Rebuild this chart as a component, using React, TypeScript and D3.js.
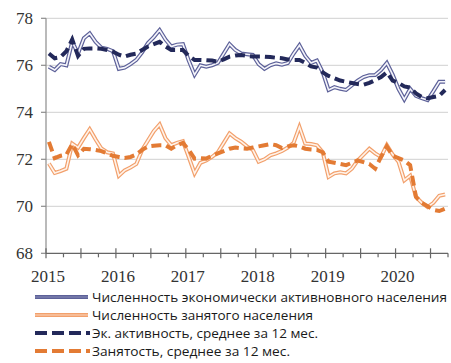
import React from "react";
import * as d3 from "d3";

const years = ["2015", "2016", "2017", "2018", "2019", "2020"];
const yTicks = [68, 70, 72, 74, 76, 78];

// monthly, Jan 2015 .. Sep 2020
const activeSolid = [
  75.94, 75.8, 76.05, 76.0, 77.0, 76.5, 77.15, 77.36, 77.0, 76.75, 76.7, 76.6,
  75.85, 75.9, 76.05, 76.23, 76.55, 76.95, 77.2, 77.5, 77.1, 76.8, 76.88, 76.9,
  76.2, 75.6, 76.0, 75.94, 76.0, 76.1, 76.5, 76.9, 76.65, 76.5, 76.47, 76.44,
  76.05, 75.85, 76.0, 76.08, 76.03, 76.1, 76.5, 76.85, 76.4, 76.1, 76.2, 75.7,
  74.95, 75.07, 75.0, 74.95, 75.15, 75.35, 75.5, 75.58, 75.59, 75.8, 76.1, 75.6,
  75.0, 74.55, 75.0, 74.7, 74.6, 74.52, 74.9, 75.3, 75.3,
];
const employedSolid = [
  71.82, 71.42, 71.5, 71.6, 72.67, 72.5, 72.9, 73.28, 72.85, 72.46, 72.3, 72.25,
  71.3, 71.53, 71.65, 71.8, 72.4, 72.8, 73.2, 73.48, 72.9, 72.6, 72.7, 72.77,
  72.1, 71.4, 71.85, 71.95, 72.1, 72.3, 72.7, 73.1, 72.9, 72.75, 72.55, 72.4,
  71.9, 72.0, 72.17, 72.25, 72.35, 72.5, 72.7, 73.38, 72.67, 72.65, 72.6, 72.3,
  71.25, 71.4, 71.45, 71.4, 71.6, 71.95, 72.2, 72.45, 72.25, 72.1, 72.6, 72.2,
  71.9, 71.1, 71.3, 70.4, 70.15, 69.97, 70.15, 70.45, 70.5,
];
const activeAvg = [
  76.5, 76.3, 76.35, 76.6, 77.1, 76.4, 76.7, 76.72, 76.72, 76.7, 76.65, 76.58,
  76.45, 76.37, 76.45, 76.5, 76.65, 76.8, 76.9, 77.0, 76.8, 76.65, 76.65, 76.65,
  76.4, 76.23, 76.23, 76.22, 76.2, 76.15, 76.25, 76.37, 76.42, 76.44, 76.4, 76.37,
  76.37, 76.37, 76.35, 76.32, 76.3, 76.25, 76.23, 76.23, 76.1, 75.95, 75.9, 75.7,
  75.55, 75.45, 75.35, 75.3, 75.25, 75.2, 75.17, 75.25, 75.37, 75.5, 75.7, 75.35,
  75.25, 75.1, 75.05, 74.8, 74.65, 74.6, 74.65, 74.7, 74.95,
];
const employedAvg = [
  72.74, 72.05, 72.15, 72.2, 72.65, 72.17, 72.45, 72.43, 72.4, 72.35, 72.25, 72.15,
  72.1, 72.06, 72.1, 72.2, 72.4, 72.55, 72.58, 72.6, 72.6, 72.45, 72.6, 72.7,
  72.4, 72.03, 72.05, 72.03, 72.15, 72.25, 72.35, 72.45, 72.5, 72.47, 72.45, 72.5,
  72.55, 72.6, 72.65, 72.6, 72.48, 72.55, 72.6, 72.55, 72.45, 72.42, 72.4, 72.3,
  71.9, 71.85, 71.8, 71.75, 71.85, 71.95, 71.88, 71.8, 71.6, 72.1, 72.55, 72.15,
  72.05, 71.95, 71.75, 70.4, 70.15, 70.0, 69.85, 69.8, 69.9,
];

const legendLabels = [
  "Численность экономически активновного населения",
  "Численность занятого населения",
  "Эк. активность, среднее за 12 мес.",
  "Занятость, среднее за 12 мес.",
];
const legendWidths = [355, 221, 226, 198];

export default function App() {
  const W = 451;
  const H = 363;
  const left = 46;
  const right = 448;
  const top = 18.3;
  const bottom = 253.3;
  const nMonths = activeSolid.length;

  const x = d3.scaleLinear().domain([0, nMonths]).range([left, right]);
  const y = d3.scaleLinear().domain([68, 78]).range([bottom, top]);

  const line = d3
    .line<number>()
    .x((_, i) => x(i + 0.5))
    .y((d) => y(d));

  const majorTicks = d3.range(0, nMonths + 1, 6);
  const minorTicks = d3.range(3, nMonths + 1, 6);

  const serif = "'Liberation Serif', 'DejaVu Serif', serif";
  const sans = "'Open Sans', 'Noto Sans', sans-serif";

  const blueOuter = "#5d6199";
  const orangeOuter = "#f2a06c";
  const navy = "#23295a";
  const orange = "#e37b34";

  const legendY = [297, 315, 333, 351];

  return (
    <svg width={W} height={H} style={{ position: "absolute", left: 0, top: 0, background: "#fff" }}>
      {/* gridlines */}
      {yTicks.slice(1).map((t) => (
        <line key={t} x1={left} x2={right} y1={y(t)} y2={y(t)} stroke="#d9d9d9" strokeWidth={1.2} />
      ))}
      {/* y axis */}
      <line x1={left} x2={left} y1={top} y2={bottom} stroke="#8c8c8c" strokeWidth={1.2} />
      {yTicks.map((t) => (
        <g key={t}>
          <line x1={left - 5} x2={left} y1={y(t)} y2={y(t)} stroke="#8c8c8c" strokeWidth={1.2} />
          <text x={33} y={y(t)} dy="0.34em" textAnchor="end" fontFamily={serif} fontSize={17} fill="#333">
            {t}
          </text>
        </g>
      ))}
      {/* x axis */}
      <line x1={left} x2={right} y1={bottom} y2={bottom} stroke="#666" strokeWidth={1.2} />
      {majorTicks.map((m) => (
        <line key={"M" + m} x1={x(m)} x2={x(m)} y1={bottom - 5} y2={bottom + 5} stroke="#666" strokeWidth={1.2} />
      ))}
      {minorTicks.map((m) => (
        <line key={"m" + m} x1={x(m)} x2={x(m)} y1={bottom} y2={bottom + 4} stroke="#666" strokeWidth={1.2} />
      ))}
      {years.map((yr, k) => (
        <text key={yr} x={x(k * 12) + 2} y={281.5} textAnchor="middle" fontFamily={serif} fontSize={17} fill="#333">
          {yr}
        </text>
      ))}

      {/* solid double lines */}
      <path d={line(activeSolid) || ""} fill="none" stroke={blueOuter} strokeWidth={4} strokeLinejoin="miter" />
      <path d={line(activeSolid) || ""} fill="none" stroke="#f4f4fa" strokeWidth={1.6} strokeLinejoin="miter" />
      <path d={line(employedSolid) || ""} fill="none" stroke={orangeOuter} strokeWidth={4} strokeLinejoin="miter" />
      <path d={line(employedSolid) || ""} fill="none" stroke="#fff3ea" strokeWidth={1.6} strokeLinejoin="miter" />

      {/* dashed averages */}
      <path d={line(activeAvg) || ""} fill="none" stroke={navy} strokeWidth={4} strokeDasharray="10 5" />
      <path d={line(employedAvg) || ""} fill="none" stroke={orange} strokeWidth={4} strokeDasharray="10 5" />

      {/* legend */}
      {legendLabels.map((lab, i) => {
        const ly = legendY[i];
        return (
          <g key={lab}>
            {i === 0 && (
              <>
                <line x1={35} x2={88} y1={ly} y2={ly} stroke={blueOuter} strokeWidth={4} />
                <line x1={35} x2={88} y1={ly} y2={ly} stroke="#8a8db8" strokeWidth={1.2} />
              </>
            )}
            {i === 1 && (
              <>
                <line x1={35} x2={88} y1={ly} y2={ly} stroke={orangeOuter} strokeWidth={4} />
                <line x1={35} x2={88} y1={ly} y2={ly} stroke="#fbd8c0" strokeWidth={1.2} />
              </>
            )}
            {i === 2 && (
              <line x1={35} x2={90} y1={ly} y2={ly} stroke={navy} strokeWidth={4} strokeDasharray="12 5 12 5 12 5 4 5" />
            )}
            {i === 3 && (
              <line x1={35} x2={90} y1={ly} y2={ly} stroke={orange} strokeWidth={4} strokeDasharray="12 5 12 5 12 5 4 5" />
            )}
            <text
              x={92}
              y={ly}
              dy="0.36em"
              fontFamily={sans}
              fontSize={13.5}
              fill="#1a1a1a"
              textLength={legendWidths[i]}
              lengthAdjust="spacingAndGlyphs"
            >
              {lab}
            </text>
          </g>
        );
      })}
    </svg>
  );
}
